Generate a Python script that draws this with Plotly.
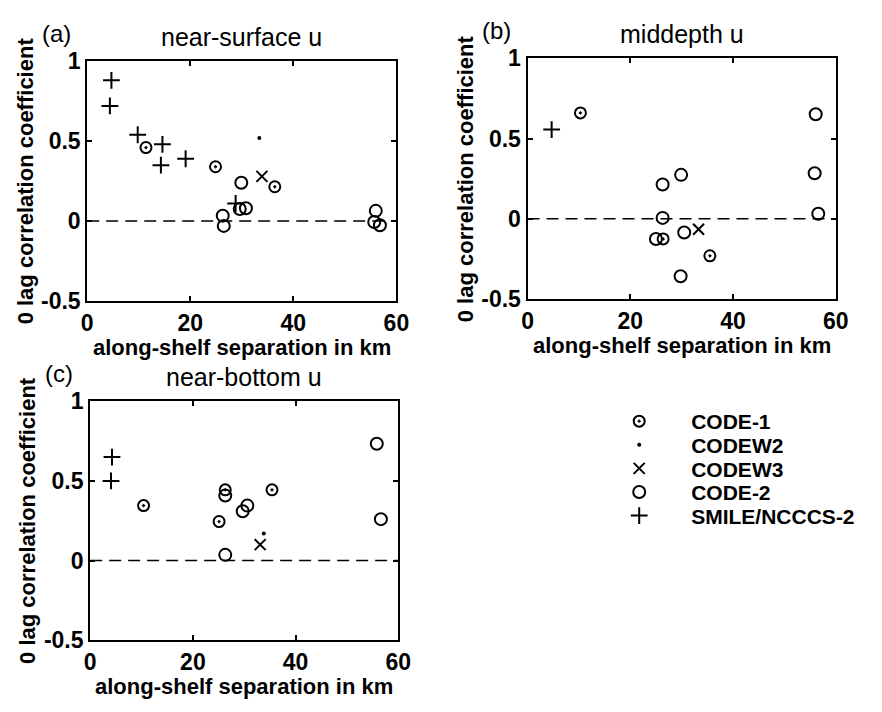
import plotly.graph_objects as go

# ---------------- data ----------------
x_ticks = [0, 20, 40, 60]
x_ticklabels = ["0", "20", "40", "60"]
y_ticks = [-0.5, 0, 0.5, 1]
y_ticklabels = ["-0.5", "0", "0.5", "1"]

series_names = ["CODE-1", "CODEW2", "CODEW3", "CODE-2", "SMILE/NCCCS-2"]

# panel (a) near-surface u
a_code1_x = [11.4, 24.9, 36.4]
a_code1_y = [0.46, 0.34, 0.215]
a_codew2_x = [33.4]
a_codew2_y = [0.52]
a_codew3_x = [33.9]
a_codew3_y = [0.28]
a_code2_x = [29.9, 26.3, 26.5, 29.6, 30.8, 56.0, 55.7, 56.8]
a_code2_y = [0.24, 0.034, -0.03, 0.076, 0.08, 0.064, -0.006, -0.026]
a_smile_x = [4.7, 4.4, 9.8, 14.6, 14.3, 19.1, 28.8]
a_smile_y = [0.88, 0.72, 0.54, 0.48, 0.35, 0.39, 0.11]

# panel (b) middepth u
b_code1_x = [10.3, 26.4, 35.5]
b_code1_y = [0.66, -0.125, -0.23]
b_codew2_x = []
b_codew2_y = []
b_codew3_x = [33.3]
b_codew3_y = [-0.065]
b_code2_x = [25.0, 26.3, 29.9, 26.3, 30.5, 29.8, 56.1, 55.9, 56.6]
b_code2_y = [-0.125, 0.214, 0.274, 0.006, -0.085, -0.357, 0.651, 0.284, 0.032]
b_smile_x = [4.7]
b_smile_y = [0.556]

# panel (c) near-bottom u
c_code1_x = [10.4, 25.1, 26.3, 35.4]
c_code1_y = [0.345, 0.245, 0.444, 0.444]
c_codew2_x = [33.8]
c_codew2_y = [0.17]
c_codew3_x = [33.1]
c_codew3_y = [0.10]
c_code2_x = [26.3, 29.7, 30.6, 26.3, 55.8, 56.6]
c_code2_y = [0.408, 0.31, 0.345, 0.036, 0.733, 0.26]
c_smile_x = [4.25, 4.06]
c_smile_y = [0.65, 0.50]

panel_titles = ["near-surface u", "middepth u", "near-bottom u"]
panel_labels = ["(a)", "(b)", "(c)"]
x_title = "along-shelf separation in km"
y_title = "0 lag correlation coefficient"

# ---------------- styling ----------------
W, H = 882, 712
FONT = "Liberation Sans, Arial, Helvetica, sans-serif"
BLACK = "#000000"

# domains in pixels (left, right, top, bottom)
panels_px = [(83, 399, 50, 299), (533, 848, 47, 297), (86, 401, 403, 651)]

marker_styles = [
    dict(symbol="circle-open-dot", size=11, color=BLACK, line=dict(width=2, color=BLACK)),
    dict(symbol="circle", size=4, color=BLACK, line=dict(width=0)),
    dict(symbol="x-thin-open", size=11, color=BLACK, line=dict(width=2, color=BLACK)),
    dict(symbol="circle-open", size=12, color=BLACK, line=dict(width=2, color=BLACK)),
    dict(symbol="cross-thin-open", size=12, color=BLACK, line=dict(width=2, color=BLACK)),
]

panel_data = [
    [(a_code1_x, a_code1_y), (a_codew2_x, a_codew2_y), (a_codew3_x, a_codew3_y),
     (a_code2_x, a_code2_y), (a_smile_x, a_smile_y)],
    [(b_code1_x, b_code1_y), (b_codew2_x, b_codew2_y), (b_codew3_x, b_codew3_y),
     (b_code2_x, b_code2_y), (b_smile_x, b_smile_y)],
    [(c_code1_x, c_code1_y), (c_codew2_x, c_codew2_y), (c_codew3_x, c_codew3_y),
     (c_code2_x, c_code2_y), (c_smile_x, c_smile_y)],
]

legend_ids = ["legend", "legend2", "legend3", "legend4", "legend5"]
legend_top_px = 424
legend_step_px = 24.5
legend_left_px = 594

fig = go.Figure()
layout = dict(
    width=W, height=H,
    margin=dict(l=0, r=0, t=0, b=0),
    paper_bgcolor="white", plot_bgcolor="white",
    font=dict(family=FONT, size=22, color=BLACK, weight="bold"),
    annotations=[],
)

for p, (l, r, t, b) in enumerate(panels_px):
    sx = "" if p == 0 else str(p + 1)
    xa, ya = "x" + sx, "y" + sx
    # zero reference line
    fig.add_trace(go.Scatter(
        x=[x_ticks[0], x_ticks[-1]], y=[0, 0], xaxis=xa, yaxis=ya, mode="lines",
        line=dict(color=BLACK, width=1.5, dash="12px,7px"), showlegend=False, hoverinfo="skip"))
    for k, (xs, ys) in enumerate(panel_data[p]):
        fig.add_trace(go.Scatter(
            x=xs, y=ys, xaxis=xa, yaxis=ya, mode="markers", name=series_names[k],
            marker=marker_styles[k], showlegend=(p == 0), legend=legend_ids[k]))
    axis_common = dict(
        showline=True, mirror="ticks", linecolor=BLACK, linewidth=2,
        ticks="inside", ticklen=5, tickwidth=1.5, tickcolor=BLACK,
        showgrid=False, zeroline=False, tickfont=dict(size=23, family=FONT, weight="bold"),
    )
    layout["xaxis" + sx] = dict(
        axis_common, domain=[l / W, r / W], range=[x_ticks[0], x_ticks[-1]],
        tickvals=x_ticks, ticktext=x_ticklabels, anchor=ya)
    layout["yaxis" + sx] = dict(
        axis_common, domain=[1 - b / H, 1 - t / H], range=[y_ticks[0], y_ticks[-1]],
        tickvals=y_ticks, ticktext=y_ticklabels, anchor=xa)
    dref_x, dref_y = xa + " domain", ya + " domain"
    layout["annotations"] += [
        dict(text=x_title, xref=dref_x, yref=dref_y, x=0.5, y=0, yshift=-46,
             xanchor="center", yanchor="middle", showarrow=False,
             font=dict(size=22, family=FONT, weight="bold")),
        dict(text=y_title, xref=dref_x, yref=dref_y, x=0, y=0.5, xshift=-62,
             xanchor="center", yanchor="middle", textangle=-90, showarrow=False,
             font=dict(size=22, family=FONT, weight="bold")),
        dict(text=panel_titles[p], xref=dref_x, yref=dref_y, x=0.5, y=1, yshift=24,
             xanchor="center", yanchor="middle", showarrow=False,
             font=dict(size=25, family=FONT, weight="normal")),
        dict(text=panel_labels[p], xref=dref_x, yref=dref_y, x=0, y=1, xshift=-31, yshift=28,
             xanchor="center", yanchor="middle", showarrow=False,
             font=dict(size=24, family=FONT, weight="normal")),
    ]

for k, lid in enumerate(legend_ids):
    layout[lid] = dict(
        x=legend_left_px / W, y=1 - (legend_top_px + k * legend_step_px) / H,
        xanchor="left", yanchor="middle",
        bgcolor="rgba(0,0,0,0)", borderwidth=0, itemwidth=94,
        font=dict(size=21, family=FONT, weight="bold", color=BLACK),
    )

fig.update_layout(**layout)
fig.write_html("out.html")
